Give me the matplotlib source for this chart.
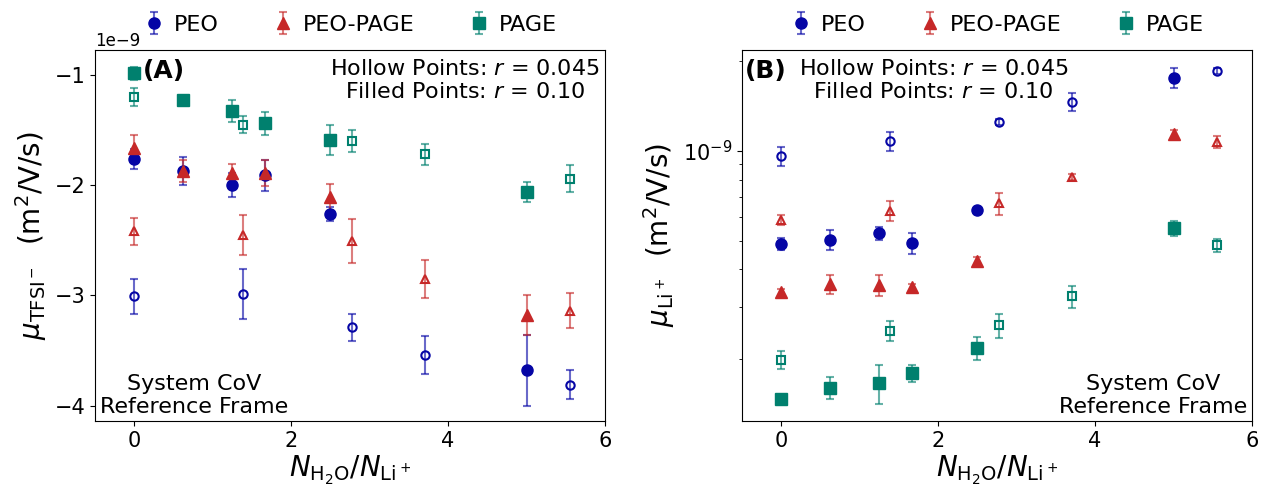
import matplotlib
matplotlib.use("Agg")
import matplotlib.pyplot as plt
import numpy as np

# water/Li ratios for the two salt concentrations
x_filled = [0.0, 0.625, 1.25, 1.667, 2.5, 5.0]     # r = 0.10
x_hollow = [0.0, 1.389, 2.778, 3.704, 5.556]       # r = 0.045

# TFSI- mobility (units of 1e-9 m^2/V/s)
peo_tfsi_f = [-1.76, -1.87, -2.00, -1.91, -2.26, -3.68]
peo_tfsi_f_err = [0.09, 0.13, 0.11, 0.14, 0.065, 0.32]
peo_tfsi_h = [-3.01, -2.99, -3.29, -3.54, -3.81]
peo_tfsi_h_err = [0.155, 0.225, 0.12, 0.17, 0.13]
pp_tfsi_f = [-1.66, -1.87, -1.89, -1.89, -2.11, -3.18]
pp_tfsi_f_err = [0.12, 0.10, 0.08, 0.12, 0.12, 0.18]
pp_tfsi_h = [-2.42, -2.45, -2.51, -2.85, -3.14]
pp_tfsi_h_err = [0.12, 0.18, 0.20, 0.17, 0.16]
page_tfsi_f = [-0.985, -1.23, -1.33, -1.44, -1.59, -2.06]
page_tfsi_f_err = [0.06, 0.04, 0.10, 0.10, 0.14, 0.09]
page_tfsi_h = [-1.20, -1.45, -1.60, -1.72, -1.94]
page_tfsi_h_err = [0.083, 0.075, 0.10, 0.095, 0.125]

# Li+ mobility (units of 1e-10 m^2/V/s)
peo_li_f = [4.86, 5.03, 5.29, 4.90, 6.31, 17.6]
peo_li_f_err = [0.22, 0.39, 0.25, 0.38, 0.15, 1.36]
peo_li_h = [9.62, 10.8, 12.5, 14.6, 18.6]
peo_li_h_err = [0.72, 0.78, 0.29, 0.98, 0.43]
pp_li_f = [3.36, 3.57, 3.55, 3.49, 4.28, 11.4]
pp_li_f_err = [0.08, 0.26, 0.29, 0.08, 0.13, 0.35]
pp_li_h = [5.87, 6.29, 6.67, 8.20, 10.7]
pp_li_h_err = [0.22, 0.48, 0.57, 0.19, 0.50]
page_li_f = [1.47, 1.60, 1.66, 1.79, 2.18, 5.49]
page_li_f_err = [0.034, 0.136, 0.25, 0.115, 0.20, 0.32]
page_li_h = [1.99, 2.49, 2.60, 3.25, 4.83]
page_li_h_err = [0.14, 0.19, 0.24, 0.28, 0.24]

labels = ["PEO", "PEO-PAGE", "PAGE"]
colors = ["#0505a5", "#c62828", "#00806e"]
markers = ["o", "^", "s"]

plt.rcParams["font.size"] = 16


def draw_series(ax, filled, filled_err, hollow, hollow_err, scale):
    for i in range(3):
        c = colors[i]
        ecol = matplotlib.colors.to_rgba(c, 0.6)
        ax.errorbar(x_filled, np.array(filled[i]) * scale,
                    yerr=np.array(filled_err[i]) * scale,
                    fmt=markers[i], color=c, ecolor=ecol, ms=8,
                    capsize=3, elinewidth=1.5, capthick=1.5, label=labels[i])
        ax.errorbar(x_hollow, np.array(hollow[i]) * scale,
                    yerr=np.array(hollow_err[i]) * scale,
                    fmt=markers[i], color=c, ecolor=ecol, ms=6, mfc="none",
                    mew=1.5, capsize=3, elinewidth=1.5, capthick=1.5)
    ax.set_xlim(-0.5, 6)
    ax.set_xticks([0, 2, 4, 6])
    ax.tick_params(labelsize=15)
    ax.set_xlabel(r"$N_{\mathrm{H_2O}}/N_{\mathrm{Li}^+}$", fontsize=20,
                  labelpad=2)
    ax.legend(loc="center", bbox_to_anchor=(0.5, 1.067), ncol=3, frameon=False,
              fontsize=16, handlelength=1.0, handletextpad=0.4, columnspacing=2.4)


fig = plt.figure(figsize=(12.63, 4.94), dpi=100)
ax1 = fig.add_axes([0.0752, 0.1478, 0.4038, 0.751])
ax2 = fig.add_axes([0.5875, 0.1478, 0.4038, 0.751])

draw_series(ax1,
            [peo_tfsi_f, pp_tfsi_f, page_tfsi_f],
            [peo_tfsi_f_err, pp_tfsi_f_err, page_tfsi_f_err],
            [peo_tfsi_h, pp_tfsi_h, page_tfsi_h],
            [peo_tfsi_h_err, pp_tfsi_h_err, page_tfsi_h_err], 1e-9)
ax1.set_ylim(-4.14e-9, -0.773e-9)
ax1.set_yticks([-4e-9, -3e-9, -2e-9, -1e-9])
ax1.yaxis.get_offset_text().set_fontsize(12)
ax1.set_ylabel(r"$\mu_{\mathrm{TFSI}^-}$  (m$^2$/V/s)", fontsize=20)
ax1.text(0.094, 0.975, "(A)", transform=ax1.transAxes, fontsize=18,
         fontweight="bold", ha="left", va="top")
ax1.text(0.99, 0.975, "Hollow Points: $r$ = 0.045\nFilled Points: $r$ = 0.10",
         transform=ax1.transAxes, ha="right", va="top", multialignment="center")
ax1.text(0.195, 0.01, "System CoV\nReference Frame", transform=ax1.transAxes,
         ha="center", va="bottom", multialignment="center")

draw_series(ax2,
            [peo_li_f, pp_li_f, page_li_f],
            [peo_li_f_err, pp_li_f_err, page_li_f_err],
            [peo_li_h, pp_li_h, page_li_h],
            [peo_li_h_err, pp_li_h_err, page_li_h_err], 1e-10)
ax2.set_yscale("log")
ax2.set_ylim(1.24e-10, 2.18e-9)
ax2.set_ylabel(r"$\mu_{\mathrm{Li}^+}$  (m$^2$/V/s)", fontsize=20)
ax2.text(0.006, 0.975, "(B)", transform=ax2.transAxes, fontsize=18,
         fontweight="bold", ha="left", va="top")
ax2.text(0.64, 0.975, "Hollow Points: $r$ = 0.045\nFilled Points: $r$ = 0.10",
         transform=ax2.transAxes, ha="right", va="top", multialignment="center")
ax2.text(0.99, 0.01, "System CoV\nReference Frame", transform=ax2.transAxes,
         ha="right", va="bottom", multialignment="center")

fig.savefig("out.png", dpi=100)
